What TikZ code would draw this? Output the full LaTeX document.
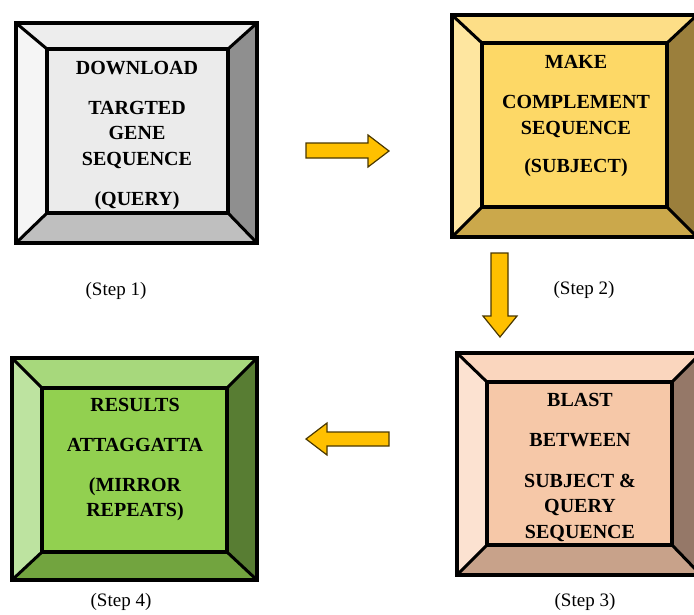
\documentclass[tikz,border=0pt]{standalone}
\usepackage{fontspec}
\setmainfont{Liberation Serif}
\definecolor{aT}{HTML}{EDEDED}\definecolor{aL}{HTML}{F5F5F5}\definecolor{aR}{HTML}{8F8F8F}\definecolor{aB}{HTML}{BFBFBF}\definecolor{aI}{HTML}{EBEBEB}
\definecolor{bT}{HTML}{FDDE87}\definecolor{bL}{HTML}{FEE6A0}\definecolor{bR}{HTML}{9B7F3C}\definecolor{bB}{HTML}{CBA84B}\definecolor{bI}{HTML}{FDD866}
\definecolor{cT}{HTML}{FAD6BE}\definecolor{cL}{HTML}{FCE2D1}\definecolor{cR}{HTML}{957868}\definecolor{cB}{HTML}{C8A28A}\definecolor{cI}{HTML}{F6C8A8}
\definecolor{dT}{HTML}{A7D87C}\definecolor{dL}{HTML}{BDE3A0}\definecolor{dR}{HTML}{587D33}\definecolor{dB}{HTML}{72A43F}\definecolor{dI}{HTML}{92D050}
\definecolor{arrfill}{HTML}{FFC000}\definecolor{arrline}{HTML}{4A3800}
\newcommand\bevelbox[5]{%
  \coordinate (o1) at #1; \coordinate (o2) at #2;
  \coordinate (i1) at #3; \coordinate (i2) at #4;
  \fill[#5T] (o1) -- (o2|-o1) -- (i2|-i1) -- (i1) -- cycle;
  \fill[#5R] (o2|-o1) -- (o2) -- (i2) -- (i2|-i1) -- cycle;
  \fill[#5B] (o2) -- (o1|-o2) -- (i1|-i2) -- (i2) -- cycle;
  \fill[#5L] (o1|-o2) -- (o1) -- (i1) -- (i1|-i2) -- cycle;
  \fill[#5I] (i1) rectangle (i2);
  \draw[line width=3pt] (o1) -- (i1) (o2|-o1) -- (i2|-i1) (o2) -- (i2) (o1|-o2) -- (i1|-i2);
  \draw[line width=3.5pt] (i1) rectangle (i2);
  \draw[line width=4.5pt] (o1) rectangle (o2);
}
\tikzset{
  boxtext/.style={align=center,font=\bfseries\fontsize{20}{25.5}\selectfont,inner sep=0pt},
  steplabel/.style={font=\fontsize{19}{22}\selectfont,inner sep=0pt},
  blockarrow/.style={fill=arrfill,draw=arrline,line width=1.2pt,line join=miter}
}
\begin{document}
\begin{tikzpicture}[x=1pt,y=-1pt]
\useasboundingbox (0,0) rectangle (694,614);
\clip (0,0) rectangle (694,614);
\bevelbox{(16,23)}{(257,243)}{(47,49)}{(228,213)}{a}
\bevelbox{(452,15)}{(697,237)}{(482,43)}{(667,207)}{b}
\bevelbox{(457,353)}{(701,575)}{(487,382)}{(672,545)}{c}
\bevelbox{(12,358)}{(257,580)}{(42,388)}{(227,552)}{d}
\node[boxtext] (t1) at (137,135.5) {DOWNLOAD\\[14.5pt]TARGTED\\GENE\\SEQUENCE\\[14.5pt](QUERY)};
\node[boxtext] (t2) at (576,116) {MAKE\\[15pt]COMPLEMENT\\SEQUENCE\\[12.5pt](SUBJECT)};
\node[boxtext] (t3) at (580,467.5) {BLAST\\[14.5pt]BETWEEN\\[15pt]SUBJECT \&\\QUERY\\SEQUENCE};
\node[boxtext] (t4) at (135,459.5) {RESULTS\\[14.5pt]ATTAGGATTA\\[14.5pt](MIRROR\\REPEATS)};
\node[steplabel] (s1) at (116,291) {(Step 1)};
\node[steplabel] (s2) at (584,290) {(Step 2)};
\node[steplabel] (s3) at (585,602) {(Step 3)};
\node[steplabel] (s4) at (121,602) {(Step 4)};
\draw[blockarrow] (306,143) -- (368,143) -- (368,135) -- (389,151) -- (368,167) -- (368,158) -- (306,158) -- cycle;
\draw[blockarrow] (491,253) -- (508,253) -- (508,316) -- (517,316) -- (500,337) -- (483,316) -- (491,316) -- cycle;
\draw[blockarrow] (389,432) -- (327,432) -- (327,423) -- (306,439) -- (327,455) -- (327,446) -- (389,446) -- cycle;
\end{tikzpicture}
\end{document}
